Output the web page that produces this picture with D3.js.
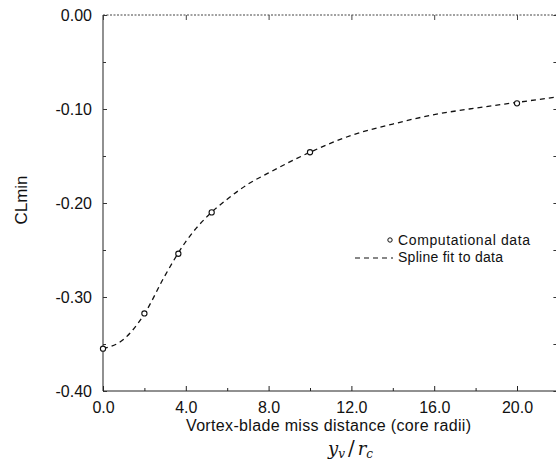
<!DOCTYPE html>
<html><head><meta charset="utf-8">
<script src="https://cdn.jsdelivr.net/npm/d3@7"></script>
<style>body{margin:0;background:#fff}svg{display:block}</style>
</head><body>
<svg id="c" width="556" height="467"></svg>
<script>
// Computational data
const dataX = [0, 2.0, 3.64, 5.25, 10.0, 20.0];
const dataY = [-0.355, -0.3175, -0.254, -0.21, -0.146, -0.094];
// Spline fit
const splineX = [0, 1, 2, 3, 4, 5, 6, 7, 8, 10, 12, 14, 16, 18, 20, 22];
const splineY = [-0.355, -0.345, -0.318, -0.277, -0.241, -0.215, -0.196, -0.180, -0.168, -0.146, -0.128, -0.116, -0.106, -0.099, -0.093, -0.087];
const xTicks = [0, 4, 8, 12, 16, 20];
const xMinor = [2, 6, 10, 14, 18];
const yTicks = [0, -0.1, -0.2, -0.3, -0.4];
const yMinor = [-0.05, -0.15, -0.25, -0.35];
const xTickLabels = ["0.0", "4.0", "8.0", "12.0", "16.0", "20.0"];
const yTickLabels = ["0.00", "-0.10", "-0.20", "-0.30", "-0.40"];

const svg = d3.select("#c");
const L = 103, T = 15, B = 391;
const x = d3.scaleLinear().domain([0, 22]).range([L, L + 22 * 20.7]);
const y = d3.scaleLinear().domain([-0.4, 0]).range([B, T]);
const R = x(22);
const font = "'Liberation Sans', Arial, Helvetica, sans-serif";

// frame
svg.append("line").attr("x1", L).attr("x2", R).attr("y1", T).attr("y2", T)
  .attr("stroke", "#444").attr("stroke-width", 1).attr("stroke-dasharray", "2,1.5");
svg.append("line").attr("x1", L).attr("x2", L).attr("y1", T).attr("y2", B)
  .attr("stroke", "#555").attr("stroke-width", 1.3);
svg.append("line").attr("x1", L).attr("x2", R).attr("y1", B).attr("y2", B)
  .attr("stroke", "#222").attr("stroke-width", 1);

// x axis
const xAxis = d3.axisBottom(x).tickValues(xTicks).tickSize(-5)
  .tickFormat((d, i) => xTickLabels[i]);
const gx = svg.append("g").attr("transform", `translate(0,${B})`).call(xAxis);
gx.select(".domain").remove();
gx.selectAll("line").attr("stroke", "#222");
gx.selectAll("text").attr("font-family", font).attr("font-size", 16).attr("fill", "#111")
  .attr("dy", null).attr("y", 22);
const gxm = svg.append("g").attr("transform", `translate(0,${B})`)
  .call(d3.axisBottom(x).tickValues(xMinor).tickSize(-3).tickFormat(""));
gxm.select(".domain").remove();
gxm.selectAll("line").attr("stroke", "#222");
// top ticks
const gxt = svg.append("g").attr("transform", `translate(0,${T})`)
  .call(d3.axisTop(x).tickValues(xTicks).tickSize(-5).tickFormat(""));
gxt.select(".domain").remove();
gxt.selectAll("line").attr("stroke", "#444");

// y axis
const yAxis = d3.axisLeft(y).tickValues(yTicks).tickSize(-4)
  .tickFormat((d, i) => yTickLabels[i]);
const gy = svg.append("g").attr("transform", `translate(${L},0)`).call(yAxis);
gy.select(".domain").remove();
gy.selectAll("line").attr("stroke", "#333");
gy.selectAll("text").attr("font-family", font).attr("font-size", 16).attr("fill", "#111").attr("x", -11);
const gym = svg.append("g").attr("transform", `translate(${L},0)`)
  .call(d3.axisLeft(y).tickValues(yMinor).tickSize(-3).tickFormat(""));
gym.select(".domain").remove();
gym.selectAll("line").attr("stroke", "#333");
// right ticks
const gyr = svg.append("g").attr("transform", `translate(${R - 1},0)`)
  .call(d3.axisRight(y).tickValues(yTicks.concat(yMinor)).tickSize(-4).tickFormat(""));
gyr.select(".domain").remove();
gyr.selectAll("line").attr("stroke", "#333");

// labels
svg.append("text").attr("x", 186).attr("y", 431)
  .attr("font-family", font).attr("font-size", 16).attr("fill", "#111")
  .attr("textLength", 285).attr("lengthAdjust", "spacing")
  .text("Vortex-blade miss distance (core radii)");
const sub = svg.append("text").attr("x", 328).attr("y", 455)
  .attr("font-family", "'DejaVu Serif', 'Liberation Serif', serif").attr("font-style", "italic")
  .attr("font-size", 18).attr("fill", "#111");
sub.append("tspan").text("y");
sub.append("tspan").attr("font-size", 12).attr("dy", 3).text("v");
sub.append("tspan").attr("dy", -3).attr("dx", 3).attr("font-style", "normal").attr("font-size", 20).text("/");
sub.append("tspan").attr("dx", 3).text("r");
sub.append("tspan").attr("font-size", 12).attr("dy", 3).text("c");
svg.append("text").attr("transform", "translate(27,200) rotate(-90)").attr("text-anchor", "middle")
  .attr("font-family", font).attr("font-size", 17).attr("fill", "#111").text("CLmin");

// spline
const spline = splineX.map((d, i) => [d, splineY[i]]);
svg.append("path").datum(spline)
  .attr("d", d3.line().x(d => x(d[0])).y(d => y(d[1])).curve(d3.curveMonotoneX))
  .attr("fill", "none").attr("stroke", "#111").attr("stroke-width", 1.3)
  .attr("stroke-dasharray", "5,4");

// points
svg.append("g").selectAll("circle").data(dataX.map((d, i) => [d, dataY[i]]))
  .join("circle").attr("cx", d => x(d[0])).attr("cy", d => y(d[1])).attr("r", 2.6)
  .attr("fill", "#fff").attr("stroke", "#111").attr("stroke-width", 1.1);

// legend
svg.append("circle").attr("cx", 390).attr("cy", 240).attr("r", 2.2)
  .attr("fill", "#fff").attr("stroke", "#111").attr("stroke-width", 1);
svg.append("text").attr("x", 398).attr("y", 245).attr("font-family", font)
  .attr("font-size", 14).attr("fill", "#111")
  .attr("textLength", 132).attr("lengthAdjust", "spacing").text("Computational data");
svg.append("line").attr("x1", 355).attr("x2", 393).attr("y1", 258).attr("y2", 258)
  .attr("stroke", "#111").attr("stroke-width", 1.2).attr("stroke-dasharray", "5,4");
svg.append("text").attr("x", 398).attr("y", 262).attr("font-family", font)
  .attr("font-size", 14).attr("fill", "#111")
  .attr("textLength", 105).attr("lengthAdjust", "spacing").text("Spline fit to data");
</script>
</body></html>
